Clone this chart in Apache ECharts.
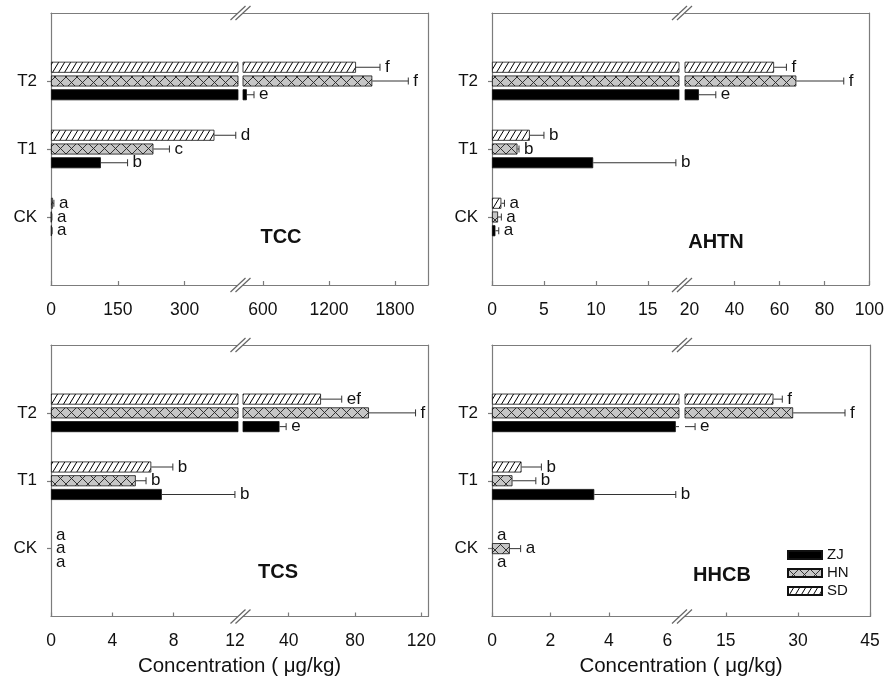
<!DOCTYPE html>
<html>
<head>
<meta charset="utf-8">
<script src="https://cdn.jsdelivr.net/npm/echarts@6/dist/echarts.min.js"></script>
<style>html,body{margin:0;padding:0;background:#fff}#c{width:887px;height:682px}</style>
</head>
<body>
<div id="c"></div>
<script>
// ---------------- DATA ----------------
const categories = ['CK', 'T1', 'T2'];
const groupNames = ['ZJ', 'HN', 'SD'];

// TCC
const tccZJ = [1.5, 112, 455];
const tccZJErr = [1.0, 60, 65];
const tccZJSig = ['a', 'b', 'e'];
const tccHN = [1.0, 230, 1594];
const tccHNErr = [1.0, 36, 327];
const tccHNSig = ['a', 'c', 'f'];
const tccSD = [4.5, 367, 1446];
const tccSDErr = [2.0, 48, 218];
const tccSDSig = ['a', 'd', 'f'];
const tccRangeLeft = [0, 420];
const tccRangeRight = [420, 2100];
const tccLabelsLeft = [0, 150, 300];
const tccLabelsRight = [600, 1200, 1800];
const tccTicksLeft = [0, 150, 300];
const tccTicksRight = [600, 1200, 1800];

// AHTN
const ahtnZJ = [0.33, 9.74, 24.2];
const ahtnZJErr = [0.32, 7.96, 7.5];
const ahtnZJSig = ['a', 'b', 'e'];
const ahtnHN = [0.58, 2.45, 67.5];
const ahtnHNErr = [0.32, 0.15, 21.1];
const ahtnHNSig = ['a', 'b', 'f'];
const ahtnSD = [0.9, 3.64, 57.6];
const ahtnSDErr = [0.3, 1.36, 5.5];
const ahtnSDSig = ['a', 'b', 'f'];
const ahtnRangeLeft = [0, 18];
const ahtnRangeRight = [18, 100];
const ahtnLabelsLeft = [0, 5, 10, 15];
const ahtnLabelsRight = [20, 40, 60, 80, 100];
const ahtnTicksLeft = [0, 5, 10, 15];
const ahtnTicksRight = [40, 60, 80, 100];

// TCS
const tcsZJ = [0, 7.23, 34.5];
const tcsZJErr = [0, 4.77, 4.0];
const tcsZJSig = ['a', 'b', 'e'];
const tcsHN = [0, 5.53, 88.4];
const tcsHNErr = [0, 0.67, 28.1];
const tcsHNSig = ['a', 'b', 'f'];
const tcsSD = [0, 6.54, 59.5];
const tcsSDErr = [0, 1.41, 12.5];
const tcsSDSig = ['a', 'b', 'ef'];
const tcsRangeLeft = [0, 12.2];
const tcsRangeRight = [12.5, 124];
const tcsLabelsLeft = [0, 4, 8, 12];
const tcsLabelsRight = [40, 80, 120];
const tcsTicksLeft = [0, 4, 8];
const tcsTicksRight = [40, 80, 120];

// HHCB
const hhcbZJ = [0, 3.5, 6.29];
const hhcbZJErr = [0, 2.79, 2.31];
const hhcbZJSig = ['a', 'b', 'e'];
const hhcbHN = [0.61, 0.70, 29.0];
const hhcbHNErr = [0.37, 0.8, 10.8];
const hhcbHNSig = ['a', 'b', 'f'];
const hhcbSD = [0, 1.01, 24.9];
const hhcbSDErr = [0, 0.68, 1.85];
const hhcbSDSig = ['a', 'b', 'f'];
const hhcbRangeLeft = [0, 6.4];
const hhcbRangeRight = [6.5, 45];
const hhcbLabelsLeft = [0, 2, 4, 6];
const hhcbLabelsRight = [15, 30, 45];
const hhcbTicksLeft = [0, 2, 4];
const hhcbTicksRight = [15, 30, 45];

const axisTitle = 'Concentration ( μg/kg)';

// ---------------- PANELS ----------------
const panels = [
  { title: 'TCC', vals: { ZJ: tccZJ, HN: tccHN, SD: tccSD }, errs: { ZJ: tccZJErr, HN: tccHNErr, SD: tccSDErr }, sig: { ZJ: tccZJSig, HN: tccHNSig, SD: tccSDSig },
    ranges: [tccRangeLeft, tccRangeRight], labels: [tccLabelsLeft, tccLabelsRight], ticks: [tccTicksLeft, tccTicksRight], xTitle: false },
  { title: 'AHTN', vals: { ZJ: ahtnZJ, HN: ahtnHN, SD: ahtnSD }, errs: { ZJ: ahtnZJErr, HN: ahtnHNErr, SD: ahtnSDErr }, sig: { ZJ: ahtnZJSig, HN: ahtnHNSig, SD: ahtnSDSig },
    ranges: [ahtnRangeLeft, ahtnRangeRight], labels: [ahtnLabelsLeft, ahtnLabelsRight], ticks: [ahtnTicksLeft, ahtnTicksRight], xTitle: false },
  { title: 'TCS', vals: { ZJ: tcsZJ, HN: tcsHN, SD: tcsSD }, errs: { ZJ: tcsZJErr, HN: tcsHNErr, SD: tcsSDErr }, sig: { ZJ: tcsZJSig, HN: tcsHNSig, SD: tcsSDSig },
    ranges: [tcsRangeLeft, tcsRangeRight], labels: [tcsLabelsLeft, tcsLabelsRight], ticks: [tcsTicksLeft, tcsTicksRight], xTitle: true },
  { title: 'HHCB', vals: { ZJ: hhcbZJ, HN: hhcbHN, SD: hhcbSD }, errs: { ZJ: hhcbZJErr, HN: hhcbHNErr, SD: hhcbSDErr }, sig: { ZJ: hhcbZJSig, HN: hhcbHNSig, SD: hhcbSDSig },
    ranges: [hhcbRangeLeft, hhcbRangeRight], labels: [hhcbLabelsLeft, hhcbLabelsRight], ticks: [hhcbTicksLeft, hhcbTicksRight], xTitle: true }
];

// layout (pixels)
const layouts = [
  { x0: 51, xb1: 238, xb2: 243, x1: 428, y0: 13, y1: 285, tx: 281, ty: 237 },
  { x0: 492, xb1: 679, xb2: 685, x1: 870, y0: 13, y1: 285, tx: 716, ty: 242 },
  { x0: 51, xb1: 238, xb2: 243, x1: 428, y0: 345, y1: 616.5, tx: 278, ty: 572 },
  { x0: 492, xb1: 679, xb2: 685, x1: 870, y0: 345, y1: 616.5, tx: 722, ty: 575 }
];

const FONT = '"Liberation Sans", Arial, Helvetica, sans-serif';
const AX = '#7c7c7c';
const TXT = '#111';
const BAR_W = 11;
const BAR_GAP = 0.25;
const PITCH = BAR_W * (1 + BAR_GAP);

function makeSD() {
  const w = 6, h = 10;
  const c = document.createElement('canvas'); c.width = w; c.height = h;
  const g = c.getContext('2d');
  g.fillStyle = '#fff'; g.fillRect(0, 0, w, h);
  g.strokeStyle = '#000'; g.lineWidth = 1;
  g.beginPath();
  for (let k = -1; k <= 1; k++) { g.moveTo(k * w, h); g.lineTo(k * w + w, 0); }
  g.stroke();
  return c;
}
function makeHN() {
  const s = 11;
  const c = document.createElement('canvas'); c.width = s; c.height = s;
  const g = c.getContext('2d');
  g.fillStyle = '#c6c6c6'; g.fillRect(0, 0, s, s);
  g.strokeStyle = '#222'; g.lineWidth = 0.9;
  g.beginPath();
  for (let k = -1; k <= 1; k++) {
    g.moveTo(k * s, 0); g.lineTo(k * s + s, s);
    g.moveTo(k * s, s); g.lineTo(k * s + s, 0);
  }
  g.stroke();
  return c;
}
const fills = {
  ZJ: '#000',
  HN: { image: makeHN(), repeat: 'repeat' },
  SD: { image: makeSD(), repeat: 'repeat' }
};
// screen order top->bottom within a category
const drawOrder = ['SD', 'HN', 'ZJ'];

const catsPadded = [''].concat(categories).concat([' ']);
const padBars = arr => ['-'].concat(arr.map(v => (v === 0 ? { value: 0, itemStyle: { borderWidth: 0, opacity: 0 } } : v))).concat(['-']);

const grid = [], xAxis = [], yAxis = [], series = [], graphic = [];

panels.forEach((p, pi) => {
  const L = layouts[pi];
  const parts = [
    { x: L.x0, w: L.xb1 - L.x0, side: 0 },
    { x: L.xb2, w: L.x1 - L.xb2, side: 1 }
  ];
  parts.forEach(part => {
    const range = p.ranges[part.side];
    const gi = grid.length;
    grid.push({ left: part.x, top: L.y0, width: part.w, height: L.y1 - L.y0 });
    const xb = xAxis.length;
    xAxis.push({
      type: 'value', gridIndex: gi, min: range[0], max: range[1], position: 'bottom',
      axisLine: { show: true, onZero: false, lineStyle: { color: AX, width: 1.2 } },
      axisTick: { show: true, inside: true, length: 4, customValues: p.ticks[part.side], lineStyle: { color: AX, width: 1.2 } },
      axisLabel: { show: true, customValues: p.labels[part.side], margin: 16, fontSize: 17.5, color: TXT, fontFamily: FONT, formatter: v => String(v) },
      splitLine: { show: false }
    });
    xAxis.push({
      type: 'value', gridIndex: gi, min: range[0], max: range[1], position: 'top',
      axisLine: { show: true, onZero: false, lineStyle: { color: AX, width: 1.2 } },
      axisTick: { show: false }, axisLabel: { show: false }, splitLine: { show: false }
    });
    const yi = yAxis.length;
    if (part.side === 0) {
      yAxis.push({
        type: 'category', gridIndex: gi, data: catsPadded, boundaryGap: false, position: 'left',
        axisLine: { show: true, onZero: false, lineStyle: { color: AX, width: 1.2 } },
        axisTick: { show: true, length: 4, interval: (i, v) => String(v).trim() !== '', lineStyle: { color: AX, width: 1.2 } },
        axisLabel: { show: true, interval: 0, margin: 14, fontSize: 17, color: TXT, fontFamily: FONT },
        splitLine: { show: false }
      });
    } else {
      yAxis.push({
        type: 'category', gridIndex: gi, data: catsPadded, boundaryGap: false, position: 'right',
        axisLine: { show: true, onZero: false, lineStyle: { color: AX, width: 1.2 } },
        axisTick: { show: false }, axisLabel: { show: false }, splitLine: { show: false }
      });
    }
    drawOrder.forEach(name => {
      series.push({
        type: 'bar', name: name, xAxisIndex: xb, yAxisIndex: yi,
        data: padBars(p.vals[name]), barWidth: BAR_W, barGap: (BAR_GAP * 100) + '%',
        itemStyle: { color: fills[name], borderColor: '#111', borderWidth: 0.8 },
        emphasis: { disabled: true }, silent: true, clip: true
      });
    });
    // error bars + significance letters
    const items = [];
    drawOrder.forEach((name, pos) => {
      categories.forEach((c, ci) => {
        items.push({ v: p.vals[name][ci], e: p.errs[name][ci], s: p.sig[name][ci], cat: ci + 1, pos: pos });
      });
    });
    series.push({
      type: 'custom', xAxisIndex: xb, yAxisIndex: yi, silent: true, z: 5,
      data: items.map(it => [it.v, it.cat]),
      renderItem: (params, api) => {
        const it = items[params.dataIndex];
        const mn = range[0], mx = range[1];
        const yc = api.coord([mn, it.cat])[1] + (it.pos - 1) * PITCH;
        const end = it.v + it.e;
        const s = Math.max(it.v, mn), e = Math.min(end, mx);
        const children = [];
        if (e > s) {
          const p1 = api.coord([s, it.cat])[0], p2 = api.coord([e, it.cat])[0];
          children.push({ type: 'line', shape: { x1: p1, y1: yc, x2: p2, y2: yc }, style: { stroke: '#333', lineWidth: 1 } });
        }
        if (end >= mn && end <= mx) {
          const px = api.coord([end, it.cat])[0];
          if (it.e > 0) {
            children.push({ type: 'line', shape: { x1: px, y1: yc - 3.5, x2: px, y2: yc + 3.5 }, style: { stroke: '#333', lineWidth: 1 } });
          }
          children.push({ type: 'text', x: px + 5, y: yc,
            style: { text: it.s, fill: TXT, font: '17px ' + FONT, align: 'left', verticalAlign: 'middle', textAlign: 'left', textVerticalAlign: 'middle' } });
        }
        return { type: 'group', children: children };
      }
    });
  });

  // panel title
  graphic.push({ type: 'text', x: L.tx, y: L.ty, z: 10,
    style: { text: p.title, fill: TXT, font: 'bold 20px ' + FONT, align: 'center', verticalAlign: 'middle', textAlign: 'center', textVerticalAlign: 'middle' } });
  // axis title
  if (p.xTitle) {
    graphic.push({ type: 'text', x: (L.x0 + L.x1) / 2, y: 666, z: 10,
      style: { text: axisTitle, fill: TXT, font: '20.5px ' + FONT, align: 'center', verticalAlign: 'middle', textAlign: 'center', textVerticalAlign: 'middle' } });
  }
  // break marks
  const bx = (L.xb1 + L.xb2) / 2;
  [L.y0, L.y1].forEach(yy => {
    const hw = 7.5, hh = 7, off = 2.5;
    graphic.push({ type: 'polygon', z: 20, shape: { points: [[bx - off - hw, yy + hh], [bx - off + hw, yy - hh], [bx + off + hw, yy - hh], [bx + off - hw, yy + hh]] }, style: { fill: '#fff' } });
    [-off, off].forEach(o => {
      graphic.push({ type: 'line', z: 21, shape: { x1: bx + o - hw, y1: yy + hh, x2: bx + o + hw, y2: yy - hh }, style: { stroke: '#666', lineWidth: 1.2 } });
    });
  });
});

const chart = echarts.init(document.getElementById('c'), null, { renderer: 'canvas' });
chart.setOption({
  animation: false,
  backgroundColor: '#fff',
  textStyle: { fontFamily: FONT },
  grid: grid, xAxis: xAxis, yAxis: yAxis, series: series, graphic: graphic,
  legend: {
    data: groupNames, orient: 'vertical', left: 782, top: 541, icon: 'rect',
    itemWidth: 34, itemHeight: 8, itemGap: 0, selectedMode: false,
    textStyle: { fontSize: 15, lineHeight: 18, color: TXT, fontFamily: FONT }
  },
  tooltip: { show: false }
});
</script>
</body>
</html>
